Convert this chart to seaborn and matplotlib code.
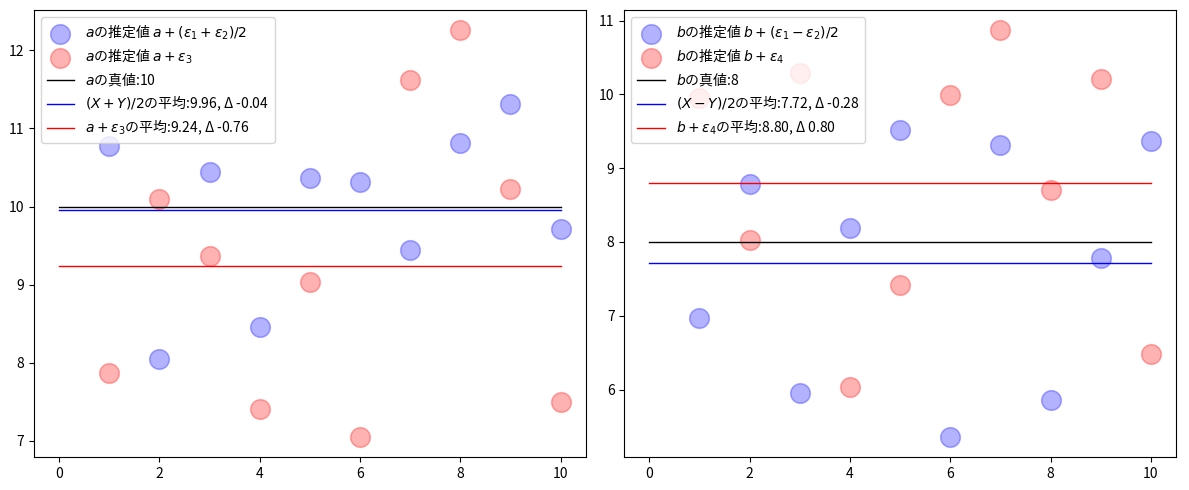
import numpy as np
import matplotlib
matplotlib.use("Agg")
import matplotlib.pyplot as plt
import seaborn as sns

plt.rcParams['font.family'] = ['Noto Sans CJK JP', 'DejaVu Sans']
plt.rcParams['axes.unicode_minus'] = False

# --- data ---
xs = [1, 2, 3, 4, 5, 6, 7, 8, 9, 10]
a_true = 10
b_true = 8
a_est_avg = [10.77, 8.05, 10.44, 8.46, 10.37, 10.31, 9.44, 10.81, 11.31, 9.71]
a_est_e3 = [7.87, 10.10, 9.37, 7.41, 9.03, 7.05, 11.62, 12.26, 10.22, 7.50]
b_est_diff = [6.97, 8.79, 5.95, 8.19, 9.52, 5.36, 9.31, 5.86, 7.78, 9.37]
b_est_e4 = [9.95, 8.03, 10.29, 6.04, 7.42, 9.99, 10.87, 8.70, 10.21, 6.48]
line_x = [0, 10]

# means shown in legend
a_mean1, a_mean2 = 9.96, 9.24
b_mean1, b_mean2 = 7.72, 8.80

fig, axes = plt.subplots(1, 2, figsize=(11.89, 4.9), dpi=100)


def draw(ax, est1, est2, true, m1, m2, lab1, lab2, labt, labm1, labm2):
    sns.scatterplot(x=xs, y=est1, color='blue', edgecolor='blue', alpha=0.3,
                    s=200, label=lab1, ax=ax)
    sns.scatterplot(x=xs, y=est2, color='red', edgecolor='red', alpha=0.3,
                    s=200, label=lab2, ax=ax)
    sns.lineplot(x=line_x, y=[true, true], color='black', lw=1, label=labt, ax=ax)
    sns.lineplot(x=line_x, y=[m1, m1], color='blue', lw=1, label=labm1, ax=ax)
    sns.lineplot(x=line_x, y=[m2, m2], color='red', lw=1, label=labm2, ax=ax)
    ax.legend(loc='upper left', fontsize=10, labelspacing=0.35)


draw(axes[0], a_est_avg, a_est_e3, a_true, a_mean1, a_mean2,
     r"$a$の推定値 $a+(\varepsilon_1+\varepsilon_2)/2$",
     r"$a$の推定値 $a+\varepsilon_3$",
     r"$a$の真値:" + f"{a_true}",
     r"$(X+Y)/2$の平均:" + f"{a_mean1:.2f}, Δ {a_mean1 - a_true:.2f}",
     r"$a+\varepsilon_3$の平均:" + f"{a_mean2:.2f}, Δ {a_mean2 - a_true:.2f}")

draw(axes[1], b_est_diff, b_est_e4, b_true, b_mean1, b_mean2,
     r"$b$の推定値 $b+(\varepsilon_1-\varepsilon_2)/2$",
     r"$b$の推定値 $b+\varepsilon_4$",
     r"$b$の真値:" + f"{b_true}",
     r"$(X-Y)/2$の平均:" + f"{b_mean1:.2f}, Δ {b_mean1 - b_true:.2f}",
     r"$b+\varepsilon_4$の平均:" + f"{b_mean2:.2f}, Δ {b_mean2 - b_true:.2f}")

plt.subplots_adjust(left=0.0286, right=0.989, top=0.98, bottom=0.067, wspace=0.07)
plt.savefig('out.png')
